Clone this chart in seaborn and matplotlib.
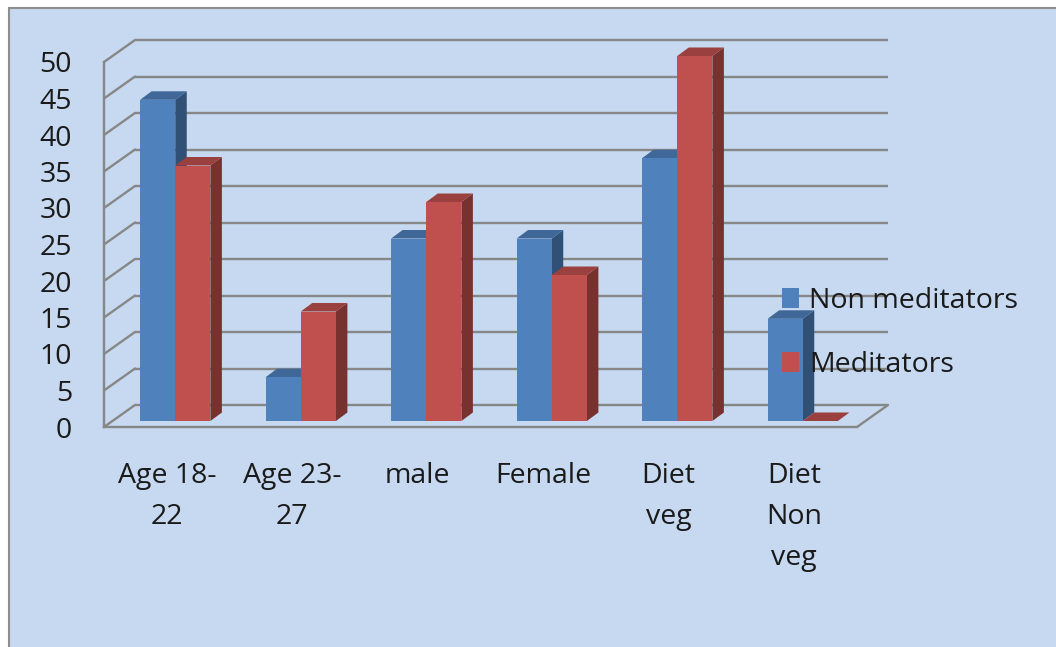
import numpy as np
import pandas as pd
import matplotlib
matplotlib.use("Agg")
import matplotlib.pyplot as plt
import seaborn as sns
from matplotlib.patches import Polygon, Rectangle, Patch

# ---------------- data ----------------
categories = ["Age 18-\n22", "Age 23-\n27", "male", "Female", "Diet\nveg", "Diet\nNon\nveg"]
non_meditators = [44, 6, 25, 25, 36, 14]
meditators = [35, 15, 30, 20, 50, 0]
series_names = ["Non meditators", "Meditators"]
y_ticks = [0, 5, 10, 15, 20, 25, 30, 35, 40, 45, 50]

df = pd.DataFrame({
    "category": categories * 2,
    "value": non_meditators + meditators,
    "series": [series_names[0]] * len(categories) + [series_names[1]] * len(categories),
})

# ---------------- style ----------------
sns.set_theme(style="white")
plt.rcParams["font.family"] = ["Open Sans", "DejaVu Sans"]
FS = 20.5
BLUE = "#4F81BD"
RED = "#C0504D"
BG = "#C6D9F0"
GRID = "#878787"
TXT = "#1A1A1A"

W, H = 1056, 647
fig = plt.figure(figsize=(W / 100, H / 100), dpi=100)
fig.patch.set_facecolor("white")
fig.add_artist(Rectangle((9 / W, -0.02), 1.05, (H - 8) / H + 0.02,
                         transform=fig.transFigure, facecolor=BG,
                         edgecolor="#8E8E8E", linewidth=1.5, zorder=0))


def px_box(left, top, right, bottom):
    return [left / W, 1 - bottom / H, (right - left) / W, (bottom - top) / H]


# front plane (axis lines, ticks, labels) and bar plane
ax_front = fig.add_axes(px_box(104, 62, 857, 427))
ax_bar = fig.add_axes(px_box(112.5, 56, 865.5, 421))
for a in (ax_front, ax_bar):
    a.patch.set_visible(False)

sns.barplot(data=df, x="category", y="value", hue="series",
            palette=[BLUE, RED], width=0.56, saturation=1,
            ax=ax_bar, legend=False, linewidth=0, edgecolor="none")
for a in (ax_front, ax_bar):
    a.set_xlim(-0.5, len(categories) - 0.5)
    a.set_ylim(0, 50)
ax_bar.axis("off")

# pixel -> data conversion
p0 = ax_bar.transData.transform((0, 0))
p1 = ax_bar.transData.transform((1, 1))
ppx, ppy = p1[0] - p0[0], p1[1] - p0[1]

# 3D faces of the bars
dxd, dyd = 11.5 / ppx, 8.5 / ppy
bars = list(ax_bar.patches)
for p in bars:
    p.set_zorder(3)
    p.set_clip_on(False)
    x0, w, h = p.get_x(), p.get_width(), p.get_height()
    x1 = x0 + w
    c = np.array(p.get_facecolor()[:3])
    side = tuple(c * 0.62)
    top = tuple(c * 0.80)
    ax_bar.add_patch(Polygon([(x1, 0), (x1, h), (x1 + dxd, h + dyd), (x1 + dxd, dyd)],
                             closed=True, facecolor=side, edgecolor="none",
                             zorder=2.5, clip_on=False))
    ax_bar.add_patch(Polygon([(x0, h), (x1, h), (x1 + dxd, h + dyd), (x0 + dxd, h + dyd)],
                             closed=True, facecolor=top, edgecolor="none",
                             zorder=2.5, clip_on=False))

# walls / gridlines on the front axes
bx, by = 31 / ppx, 22 / ppy
xl, xr = -0.5, len(categories) - 0.5
glw = 1.7
for v in y_ticks:
    ax_front.plot([xl + bx, xr + bx], [v + by, v + by], color=GRID, lw=glw,
                  clip_on=False, zorder=1, solid_capstyle="butt")
    ax_front.plot([xl, xl + bx], [v, v + by], color=GRID, lw=glw,
                  clip_on=False, zorder=1)
ax_front.plot([xr, xr + bx], [0, by], color=GRID, lw=glw, clip_on=False, zorder=1)

for s in ("top", "right"):
    ax_front.spines[s].set_visible(False)
for s in ("left", "bottom"):
    ax_front.spines[s].set_color(GRID)
    ax_front.spines[s].set_linewidth(glw)

ax_front.set_yticks(y_ticks)
ax_front.set_yticklabels([str(v) for v in y_ticks])
ax_front.tick_params(axis="y", direction="out", length=8, width=1.5, color=GRID,
                     pad=15, labelsize=FS, labelcolor=TXT)
ax_front.set_xticks(range(len(categories)))
ax_front.set_xticklabels(categories)
ax_front.set_xticks(np.arange(-0.5, len(categories), 1.0), minor=True)
ax_front.tick_params(axis="x", which="major", length=0, pad=25,
                     labelsize=FS, labelcolor=TXT)
ax_front.tick_params(axis="x", which="minor", direction="out", length=9.5,
                     width=1.5, color=GRID)
for lbl in ax_front.get_xticklabels():
    lbl.set_linespacing(1.62)
ax_front.set_xlabel("")
ax_front.set_ylabel("")
ax_front.grid(False)

# legend
handles = [Patch(facecolor=BLUE, edgecolor="none", linewidth=0, label=series_names[0]),
           Patch(facecolor=RED, edgecolor="none", linewidth=0, label=series_names[1])]
fig.legend(handles=handles, loc="center left", bbox_to_anchor=(782 / W, 1 - 333 / H),
           frameon=False, borderpad=0, borderaxespad=0, handlelength=0.6,
           handleheight=0.7, handletextpad=0.36, labelspacing=1.25,
           fontsize=FS, labelcolor=TXT)

fig.savefig("out.png", dpi=100, facecolor=fig.get_facecolor())
